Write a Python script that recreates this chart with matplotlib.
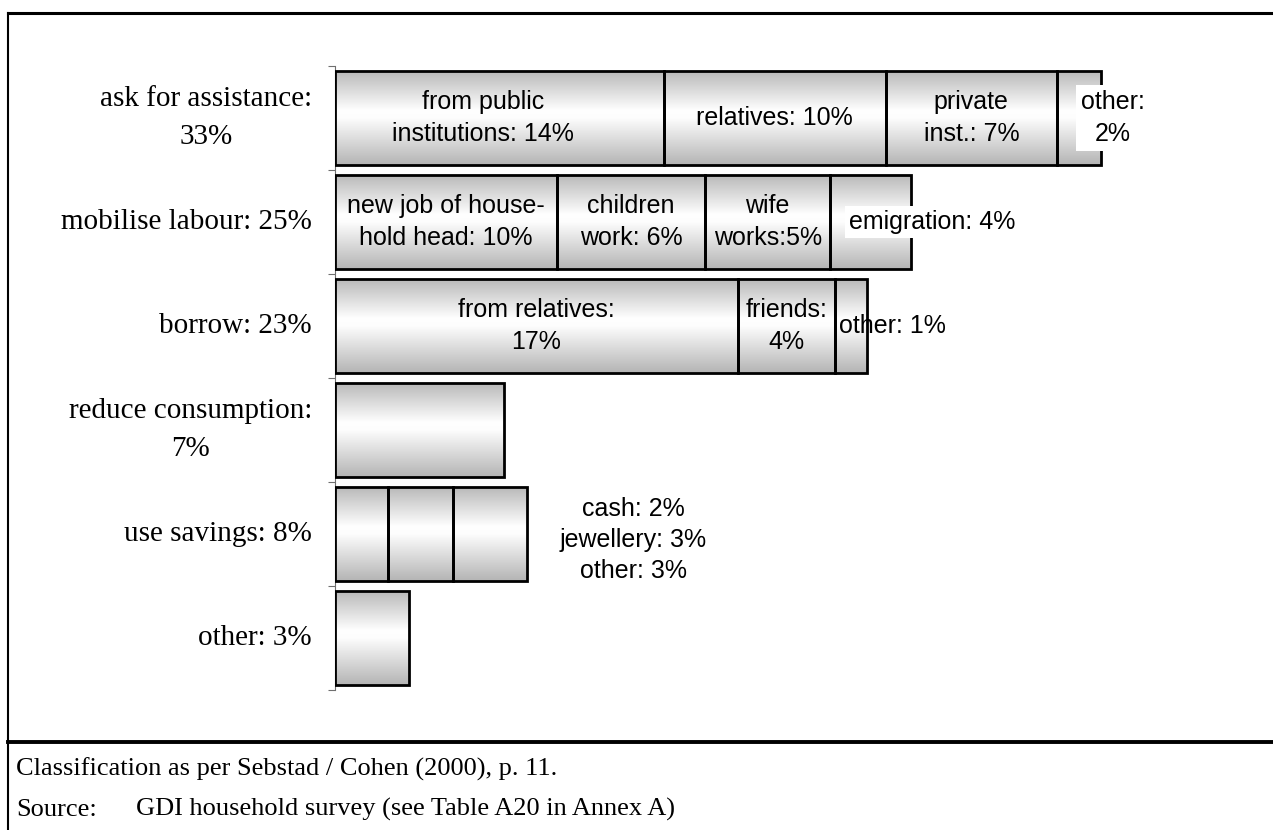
import numpy as np
import matplotlib.pyplot as plt
from matplotlib.patches import Rectangle
from matplotlib.lines import Line2D
from matplotlib.colors import LinearSegmentedColormap

# coping strategies, share of households (%)
categories = ['ask for assistance:\n33%', 'mobilise labour: 25%', 'borrow: 23%',
              'reduce consumption:\n7%', 'use savings: 8%', 'other: 3%']

ask_vals = [14.2, 9.6, 7.4, 1.9]
ask_labels = ['from public\ninstitutions: 14%', 'relatives: 10%', 'private\ninst.: 7%', 'other:\n2%']

labour_vals = [9.6, 6.4, 5.4, 3.5]
labour_labels = ['new job of house-\nhold head: 10%', 'children\nwork: 6%', 'wife\nworks:5%', 'emigration: 4%']

borrow_vals = [17.4, 4.2, 1.4]
borrow_labels = ['from relatives:\n17%', 'friends:\n4%', 'other: 1%']

reduce_vals = [7.3]
reduce_labels = ['']

savings_vals = [2.3, 2.8, 3.2]
savings_labels = ['cash: 2%', 'jewellery: 3%', 'other: 3%']

other_vals = [3.2]
other_labels = ['']

rows = [(ask_vals, ask_labels), (labour_vals, labour_labels), (borrow_vals, borrow_labels),
        (reduce_vals, reduce_labels), (savings_vals, savings_labels), (other_vals, other_labels)]

W, H = 1273, 830
fig = plt.figure(figsize=(W / 100, H / 100), dpi=100)
ax = fig.add_axes([335 / W, 1 - 690 / H, 905 / W, 624 / H])

sans = 'Liberation Sans'
serif = 'Liberation Serif'
fs_bar = 18
ls_bar = 1.45

# grey-white-grey shading of the bars
shade = LinearSegmentedColormap.from_list('shade', [(0, '#b9b9b9'), (0.42, '#ffffff'),
                                                     (0.5, '#fdfdfd'), (1, '#b4b4b4')])
grad = np.linspace(0, 1, 256).reshape(-1, 1)
bh = 0.9

for i, (vals, labels) in enumerate(rows):
    left = 0
    for j, v in enumerate(vals):
        rect = Rectangle((left, i - bh / 2), v, bh, facecolor='none', edgecolor='black',
                         linewidth=2.0, zorder=3)
        ax.add_patch(rect)
        im = ax.imshow(grad, cmap=shade, aspect='auto', origin='upper',
                       extent=(left, left + v, i + bh / 2, i - bh / 2), zorder=2)
        im.set_clip_path(rect)
        left += v

    starts = np.concatenate([[0], np.cumsum(vals)[:-1]])
    total = sum(vals)
    for j, (s, v, lab) in enumerate(zip(starts, vals, labels)):
        if not lab:
            continue
        if i == 4:
            continue
        if i == 0 and j == 3:
            ax.text(total + 0.5, i, lab, ha='center', va='center', fontsize=fs_bar,
                    family=sans, zorder=5, linespacing=ls_bar,
                    bbox=dict(facecolor='white', edgecolor='none', pad=3))
        elif i == 1 and j == 3:
            ax.text(s + 0.82, i, lab, ha='left', va='center', fontsize=fs_bar,
                    family=sans, zorder=5,
                    bbox=dict(facecolor='white', edgecolor='none', pad=3))
        elif i == 2 and j == 2:
            ax.text(s + 0.17, i, lab, ha='left', va='center', fontsize=fs_bar,
                    family=sans, zorder=5)
        else:
            dx = -0.7 if (i == 0 and j == 0) else 0
            ax.text(s + v / 2 + dx, i, lab, ha='center', va='center', fontsize=fs_bar,
                    family=sans, zorder=5, linespacing=ls_bar)

# savings breakdown listed beside the bar
ax.text(sum(savings_vals) + 4.6, 4.06, '\n'.join(savings_labels), ha='center', va='center',
        fontsize=fs_bar, family=sans, linespacing=1.36, zorder=5)

ax.set_xlim(0, 905 / 23.14)
ax.set_ylim(5.5, -0.5)

for sp in ['top', 'right', 'bottom']:
    ax.spines[sp].set_visible(False)
ax.spines['left'].set_color('#6f6f6f')
ax.spines['left'].set_linewidth(0.8)
ax.set_xticks([])
ax.set_yticks(np.arange(-0.5, 6, 1))
ax.set_yticklabels([])
ax.tick_params(axis='y', direction='out', length=5, width=0.8, color='#6f6f6f')

# category labels, right aligned with wrapped lines centred
for i, c in enumerate(categories):
    fig.text(312 / W, 1 - (118 + 104 * i) / H, c, ha='right', va='center',
             multialignment='center', fontsize=21, family=serif, linespacing=1.58)

# frame lines
fig.add_artist(Line2D([8 / W, 1], [1 - 13 / H, 1 - 13 / H], color='black', lw=2.2))
fig.add_artist(Line2D([8 / W, 8 / W], [0, 1 - 13 / H], color='black', lw=1.5))
fig.add_artist(Line2D([8 / W, 1], [1 - 742 / H, 1 - 742 / H], color='black', lw=2.8))

fs_note = 19
fig.text(16 / W, 1 - 776 / H, 'Classification as per Sebstad / Cohen (2000), p. 11.',
         ha='left', va='baseline', fontsize=fs_note, family=serif)
fig.text(16 / W, 1 - 816 / H, 'Source:', ha='left', va='baseline', fontsize=fs_note, family=serif)
fig.text(136 / W, 1 - 816 / H, 'GDI household survey (see Table A20 in Annex A)',
         ha='left', va='baseline', fontsize=fs_note, family=serif)

fig.savefig('out.png', dpi=100)
